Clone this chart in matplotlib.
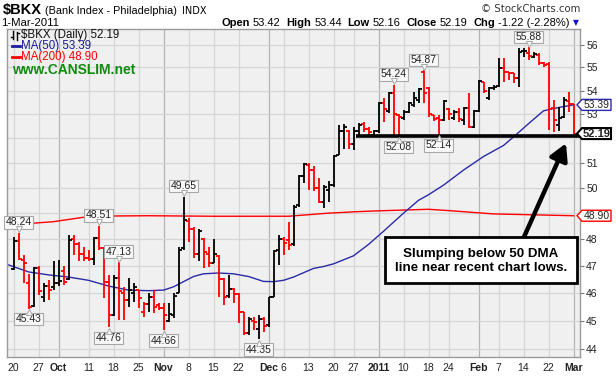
import numpy as np
import pandas as pd
import matplotlib
matplotlib.use('Agg')
import matplotlib.pyplot as plt
from matplotlib.lines import Line2D
from matplotlib.patches import Polygon, Rectangle
from matplotlib.ticker import NullLocator
import matplotlib.transforms as mtransforms

plt.rcParams['font.family'] = ['Liberation Sans', 'DejaVu Sans']

W, H = 616, 378

# trading days 20-Sep-2010 .. 1-Mar-2011
holidays = pd.to_datetime(['2010-11-25', '2010-12-24', '2011-01-17', '2011-02-21'])
days = pd.bdate_range('2010-09-20', '2011-03-01')
days = days[~days.isin(holidays)]

opens = [46.86, 47.93, 47.20, 46.35, 45.52, 46.90, 45.85, 46.25, 46.20, 46.35,
         46.80, 46.50, 48.00, 47.80, 47.45, 47.30, 47.25, 48.05, 47.65, 46.40,
         45.20, 46.55, 46.00, 45.75, 46.00, 46.10, 45.30, 45.60, 45.85, 45.55,
         45.45, 45.00, 45.20, 46.00, 47.65, 48.70, 48.40, 47.45, 48.00, 47.45,
         47.10, 47.35, 46.50, 45.90, 46.15, 45.95, 45.30, 44.55, 45.00, 44.70,
         45.05, 44.85, 45.86, 47.60, 48.00, 47.95, 47.80, 49.30, 50.45, 50.90,
         50.70, 49.97, 49.45, 49.90, 50.10, 51.30, 52.30, 52.30, 51.75, 52.30,
         52.60, 52.40, 52.15, 52.30, 53.45, 53.15, 53.90, 52.95, 52.85, 53.10,
         53.40, 53.60, 54.80, 54.10, 52.95, 52.85, 52.75, 53.20, 52.85, 53.10,
         52.75, 53.25, 52.45, 53.15, 54.38, 53.70, 54.10, 54.20, 54.96, 54.82,
         54.75, 54.53, 55.70, 55.62, 55.45, 55.55, 55.20, 55.15, 53.25, 52.55,
         52.90, 53.55, 53.42]
highs = [48.09, 48.24, 47.40, 46.70, 46.97, 47.00, 46.35, 46.48, 47.16, 47.20,
         47.00, 48.16, 48.16, 47.90, 47.72, 47.60, 48.10, 48.51, 47.72, 46.66,
         46.66, 47.13, 46.23, 46.54, 46.35, 46.11, 45.68, 45.98, 46.11, 45.62,
         45.62, 45.62, 45.98, 47.72, 49.65, 48.80, 48.48, 48.39, 48.05, 47.72,
         48.00, 47.40, 46.54, 46.66, 46.17, 45.98, 45.32, 45.14, 45.14, 45.20,
         45.14, 45.86, 47.59, 48.16, 48.10, 48.65, 49.30, 50.50, 51.00, 51.00,
         50.85, 50.40, 50.11, 50.25, 51.31, 52.55, 52.60, 52.34, 52.45, 52.65,
         52.69, 52.45, 52.34, 53.53, 53.67, 53.95, 54.24, 53.00, 53.18, 53.50,
         53.95, 54.10, 54.87, 54.17, 52.97, 52.97, 53.60, 53.25, 53.18, 53.25,
         53.32, 53.88, 53.18, 54.46, 54.38, 54.17, 54.24, 55.40, 55.40, 54.82,
         54.75, 55.84, 55.84, 55.88, 55.69, 55.62, 55.25, 55.25, 53.60, 53.32,
         53.74, 53.95, 53.44]
lows = [46.84, 47.22, 46.35, 45.43, 45.50, 45.92, 45.67, 45.74, 46.10, 46.24,
        46.30, 46.48, 47.40, 47.16, 47.16, 47.16, 47.03, 47.59, 45.80, 44.76,
        45.15, 45.02, 45.02, 45.50, 45.68, 45.45, 45.14, 45.32, 45.26, 45.38,
        44.66, 44.96, 45.08, 45.98, 47.59, 47.90, 47.28, 47.16, 46.90, 46.97,
        47.09, 45.86, 45.56, 45.80, 45.62, 44.90, 44.49, 44.49, 44.67, 44.35,
        44.60, 44.78, 45.86, 47.03, 47.40, 47.60, 47.75, 49.25, 50.20, 49.90,
        49.85, 49.39, 49.19, 49.45, 50.04, 51.30, 51.55, 51.55, 51.52, 52.10,
        52.25, 52.06, 52.06, 52.20, 52.69, 53.04, 52.15, 52.08, 52.76, 53.04,
        53.30, 53.46, 53.45, 52.90, 52.70, 52.14, 52.72, 52.76, 52.76, 52.69,
        52.55, 52.41, 52.41, 53.11, 53.88, 53.60, 54.02, 54.17, 54.38, 54.46,
        54.31, 54.17, 55.47, 55.32, 55.40, 55.11, 55.03, 52.34, 52.27, 52.30,
        52.85, 53.10, 52.16]
closes = [47.93, 47.24, 47.10, 45.50, 46.90, 46.05, 46.25, 46.10, 46.35, 46.45,
          46.40, 47.97, 47.80, 47.45, 47.30, 47.25, 48.05, 47.65, 46.40, 45.20,
          46.55, 46.05, 45.75, 46.10, 46.20, 45.80, 45.60, 45.85, 45.50, 45.45,
          45.20, 45.25, 45.90, 47.60, 48.75, 48.40, 47.45, 48.30, 47.50, 47.10,
          47.45, 46.50, 45.86, 46.15, 45.95, 45.30, 44.55, 45.05, 44.95, 45.05,
          44.80, 45.85, 47.55, 48.00, 47.84, 47.78, 49.25, 50.45, 50.95, 50.70,
          50.00, 49.45, 50.04, 50.10, 51.26, 52.30, 52.45, 51.75, 52.30, 52.55,
          52.40, 52.25, 52.30, 53.45, 53.20, 53.90, 53.00, 52.90, 53.10, 53.45,
          53.70, 54.05, 53.90, 53.00, 52.80, 52.75, 53.55, 53.00, 53.10, 52.80,
          53.25, 52.45, 53.15, 54.40, 54.00, 54.10, 54.15, 54.96, 54.82, 54.75,
          54.53, 55.69, 55.72, 55.50, 55.60, 55.20, 55.10, 53.20, 52.75, 52.85,
          53.60, 53.41, 52.19]

# moving averages (bar index, value)
ma50_bar = [-1.3, 3, 7, 11, 15, 19, 23, 27, 30, 32, 34, 36, 38, 41, 44, 47, 50, 52,
            54, 56, 60, 62, 64, 68, 71, 74, 78, 81, 83, 86, 90, 94, 98, 100, 103,
            106, 109, 112]
ma50_val = [47.05, 46.77, 46.66, 46.58, 46.46, 46.25, 46.10, 46.08, 46.10, 46.22,
            46.41, 46.60, 46.70, 46.73, 46.70, 46.60, 46.42, 46.41, 46.46, 46.58,
            46.90, 46.97, 47.07, 47.37, 47.80, 48.30, 49.00, 49.50, 49.72, 50.10,
            50.70, 51.25, 51.70, 52.05, 52.60, 53.14, 53.28, 53.39]
ma200_bar = [-1.3, 1, 8, 14, 20, 27, 40, 55, 63, 69, 73, 83, 87, 96, 112]
ma200_val = [48.55, 48.57, 48.67, 48.84, 48.89, 48.90, 48.88, 48.88, 49.00, 49.06,
             49.09, 49.15, 49.10, 48.97, 48.90]

tick_dates = ['2010-09-20', '2010-09-27', '2010-10-01', '2010-10-11', '2010-10-18',
              '2010-10-25', '2010-11-01', '2010-11-08', '2010-11-15', '2010-11-22',
              '2010-12-01', '2010-12-06', '2010-12-13', '2010-12-20', '2010-12-27',
              '2011-01-03', '2011-01-10', '2011-01-18', '2011-01-24', '2011-02-01',
              '2011-02-07', '2011-02-14', '2011-02-22', '2011-03-01']
tick_labels = ['20', '27', 'Oct', '11', '18', '25', 'Nov', '8', '15', '22', 'Dec', '6',
               '13', '20', '27', '2011', '10', '18', '24', 'Feb', '7', '14', '22', 'Mar']
month_labels = ['Oct', 'Nov', 'Dec', '2011', 'Feb', 'Mar']
price_ticks = list(range(44, 57))

# labelled swing points: date, value, label above the bar?
swings = [('2010-09-21', 48.24, True), ('2010-09-23', 45.43, False),
          ('2010-10-13', 48.51, True), ('2010-10-15', 44.76, False),
          ('2010-10-19', 47.13, True), ('2010-11-01', 44.66, False),
          ('2010-11-05', 49.65, True), ('2010-11-29', 44.35, False),
          ('2011-01-06', 54.24, True), ('2011-01-07', 52.08, False),
          ('2011-01-14', 54.87, True), ('2011-01-20', 52.14, False),
          ('2011-02-15', 55.88, True)]
support_level = 52.07
support_from = '2010-12-27'

opens, highs, lows, closes = map(np.array, (opens, highs, lows, closes))
x = np.arange(len(days))
prev = np.r_[closes[0] - 1, closes[:-1]]
colors = np.where(closes < prev, '#ff0000', 'black')

fig = plt.figure(figsize=(W / 100, H / 100), dpi=100)
ax = fig.add_axes([7 / W, 21 / H, 573 / W, 328 / H])
ax.set_facecolor('#f0f0f0')
ax.set_yscale('log')
ax.set_ylim(43.72, 56.70)
ax.set_xlim(-1.3, 113.3)

# grid
tick_pos = [days.get_loc(pd.Timestamp(d)) for d in tick_dates]
for p, lab in zip(tick_pos, tick_labels):
    ax.axvline(p, color='#b4b4b4' if lab in month_labels else '#d6d6d6', lw=0.9, zorder=0)
for v in price_ticks:
    ax.axhline(v, color='#d6d6d6', lw=0.9, zorder=0)

# OHLC bars
ax.vlines(x, lows, highs, colors=colors, lw=1.3, zorder=3)
ax.hlines(opens, x - 0.6, x, colors=colors, lw=1.3, zorder=3)
ax.hlines(closes, x, x + 0.6, colors=colors, lw=1.3, zorder=3)

ax.plot(ma200_bar, ma200_val, color='#ff0000', lw=1.0, zorder=2)
ax.plot(ma50_bar, ma50_val, color='#2a2aa8', lw=1.0, zorder=2)

ax.plot([days.get_loc(pd.Timestamp(support_from)) + 0.5, 113.3], [support_level] * 2,
        color='black', lw=2.6, solid_capstyle='butt', zorder=4)

# swing labels
for d, v, above in swings:
    i = days.get_loc(pd.Timestamp(d))
    off = 7.6 if above else -7.6
    ax.annotate(f'{v:.2f}', xy=(i, v), xytext=(0, off), textcoords='offset points',
                ha='center', va='center', fontsize=7.5, color='#222',
                bbox=dict(boxstyle='square,pad=0.12', fc='#f8f8f8', ec='#a8a8a8', lw=0.8),
                zorder=6, annotation_clip=False)
    tr = mtransforms.offset_copy(ax.transData, fig=fig, x=0, y=2.6 if above else -2.6,
                                 units='points')
    ax.plot(i, v, marker='v' if above else '^', ms=4, mfc='#f8f8f8', mec='#a8a8a8',
            mew=0.7, transform=tr, zorder=6, clip_on=False)

# annotation box and arrow
ax.annotate('', xy=(110.5, 51.79), xytext=(101.9, 48.0),
            arrowprops=dict(arrowstyle='-|>,head_length=0.9,head_width=0.5', lw=3.2,
                            color='black', shrinkA=0, shrinkB=0, mutation_scale=11),
            zorder=6)
ax.add_patch(Rectangle((74.3, 46.36), 38.4, 48.08 - 46.36, fc='white', ec='black',
                       lw=2.0, zorder=7))
ax.text(93.5, 47.18, 'Slumping below 50 DMA\nline near recent chart lows.', ha='center',
        va='center', fontsize=9.6, weight='bold', linespacing=1.2, zorder=8)

# right-hand price tags (drawn over the axis labels they cover)
tags = [(ma50_val[-1], '#2a2aa8', False, 1.0),
        (closes[-1], 'black', True, 1.5),
        (ma200_val[-1], '#ff0000', False, 1.0)]

# axes styling
for s in ax.spines.values():
    s.set_color('#9a9a9a')
    s.set_linewidth(1.0)
ax.yaxis.tick_right()
ax.set_yticks(price_ticks)
ax.yaxis.set_minor_locator(NullLocator())
ax.tick_params(axis='y', labelsize=7.5, length=3, color='#777', pad=1.5, labelcolor='#222')
ax.set_xticks(tick_pos)
ax.set_xticklabels(tick_labels)
for t in ax.get_xticklabels():
    if t.get_text() in month_labels:
        t.set_fontweight('bold')
ax.tick_params(axis='x', labelsize=7.5, length=0, pad=4, labelcolor='#222')


def ypix(v):
    return ax.transData.transform((0, v))[1]


# labels hidden behind a tag are left blank
ylabs = []
for v in price_ticks:
    hidden = any(abs(ypix(v) - ypix(t[0])) < 8 for t in tags)
    ylabs.append('' if hidden else str(v))
ax.set_yticklabels(ylabs)


def ftext(px, py, s, **kw):
    return fig.text(px / W, 1 - py / H, s, **kw)


def fline(xs, ys, **kw):
    fig.add_artist(Line2D([a / W for a in xs], [1 - b / H for b in ys],
                          transform=fig.transFigure, **kw))


renderer = fig.canvas.get_renderer()

# header
ftext(3, 10, '$BKX', fontsize=10.5, weight='bold', va='center')
name = ftext(45, 10.5, '(Bank Index - Philadelphia)', fontsize=7.8, va='center')
name_end = name.get_window_extent(renderer).x1
ftext(name_end + 5, 10.5, 'INDX', fontsize=7.0, va='center', family='DejaVu Sans')
ftext(580, 9, '© StockCharts.com', fontsize=7.3, ha='right', va='center', color='#333',
      family='DejaVu Sans')
ftext(1, 23, days[-1].strftime('%-d-%b-%Y'), fontsize=8.2, va='center')
chg = closes[-1] - closes[-2]
pieces = [('Open', True), (f'{opens[-1]:.2f}', False),
          ('High', True), (f'{highs[-1]:.2f}', False),
          ('Low', True), (f'{lows[-1]:.2f}', False),
          ('Close', True), (f'{closes[-1]:.2f}', False),
          ('Chg', True), (f'{chg:.2f} ({chg / closes[-2] * 100:.2f}%)', False)]
texts = [ftext(0, 23, s, fontsize=8, va='center', weight='bold' if b else 'normal')
         for s, b in pieces]
widths = [t.get_window_extent(renderer).width for t in texts]
gaps = [3 if b else 6 for _, b in pieces]
total = sum(widths) + sum(gaps[:-1])
xpos = 570 - total
for t, w, g in zip(texts, widths, gaps):
    t.set_x(xpos / W)
    xpos += w + g
ftext(575.5, 22.5, '▼', fontsize=5.5, va='center', ha='center', color='#1010d0',
      family='DejaVu Sans')

# legend inside the plot
fline([13, 13], [31, 39], color='black', lw=1)
fline([11, 13], [37, 37], color='black', lw=1)
fline([17, 17], [32, 40], color='black', lw=1)
fline([17, 19], [33, 33], color='black', lw=1)
ftext(21, 35, f'$BKX (Daily) {closes[-1]:.2f}', fontsize=8.3, va='center', color='#111')
fline([12, 20], [46, 46], color='#1a1a9a', lw=2)
ftext(21, 46, f'MA(50) {ma50_val[-1]:.2f}', fontsize=8.3, va='center', color='#1a1a9a')
fline([12, 20], [57, 57], color='#ff0000', lw=2)
ftext(21, 57, f'MA(200) {ma200_val[-1]:.2f}', fontsize=8.3, va='center', color='#ff0000')
ftext(12, 70, 'www.CANSLIM.net', fontsize=10, weight='bold', va='center', color='#118c11')

for val, ec, bold, lw in tags:
    yc = ypix(val)
    pts = [(577, yc), (582, yc + 5.5), (611, yc + 5.5), (611, yc - 5.5), (582, yc - 5.5)]
    fig.add_artist(Polygon([(a / W, b / H) for a, b in pts], closed=True,
                           transform=fig.transFigure, fc='white', ec=ec, lw=lw, zorder=5))
    fig.text(596.5 / W, yc / H, f'{val:.2f}', ha='center', va='center', zorder=6,
             fontsize=8 if bold else 7.5, weight='bold' if bold else 'normal', color='#222')

fig.savefig('out.png', dpi=100)
